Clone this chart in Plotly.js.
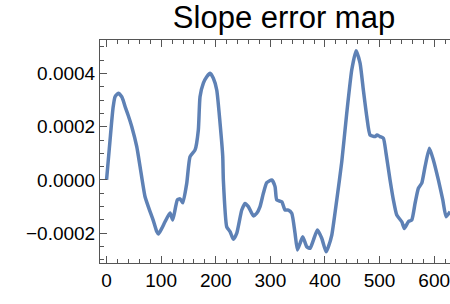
<!DOCTYPE html>
<html><head><meta charset="utf-8">
<script src="https://cdn.plot.ly/plotly-3.0.1.min.js"></script>
<style>html,body{margin:0;padding:0;overflow:hidden;background:#fff}</style>
</head><body><div id="chart" style="width:450px;height:304px"></div>
<script>
const xValues = [0,6.4,11.9,15.6,21.6,27.8,30.2,33.9,39.4,46.2,55.3,61.4,70.5,79.7,85.2,91.9,94.9,101.1,107.1,116.3,121.2,129.7,134.6,139.6,146.9,152.9,162.1,168.1,171.2,177.3,183.5,189.6,195.6,201.8,207.9,212.8,213.9,220.1,226.2,232.2,238.5,247.6,253.7,259.7,268.9,275.1,281.1,287.2,293.4,302.6,308.6,311.7,320.9,326.9,333.0,339.2,345.2,349.5,354.4,359.3,366.7,372.7,378.8,386.1,394.1,402.0,406.2,412.5,421.6,430.8,439.9,449.1,457.0,464.3,470.3,476.6,482.6,491.8,495.4,500.9,507.0,511.9,519.2,525.3,531.5,540.7,545.4,552.7,559.0,565.0,571.1,577.3,583.3,591.2,598.5,607.7,615.8,621.8,629.1];
const yValues = [0,0.000150,0.000271,0.000313,0.000326,0.000313,0.000301,0.000276,0.000244,0.000200,0.000125,0.000050,-0.000063,-0.000119,-0.000150,-0.000194,-0.000203,-0.000182,-0.000157,-0.000124,-0.000150,-0.000075,-0.000071,-0.000086,-0.000012,0.000088,0.000113,0.000188,0.000313,0.000364,0.000388,0.000401,0.000382,0.000338,0.000213,0.000088,0,-0.000176,-0.000194,-0.000223,-0.000200,-0.000113,-0.000088,-0.000100,-0.000135,-0.000125,-0.000100,-0.000050,-0.000010,0,-0.000025,-0.000075,-0.000082,-0.000113,-0.000113,-0.000125,-0.000200,-0.000263,-0.000238,-0.000213,-0.000251,-0.000257,-0.000226,-0.000188,-0.000219,-0.000270,-0.000251,-0.000207,-0.000075,0.000069,0.000251,0.000414,0.000486,0.000439,0.000338,0.000238,0.000169,0.000163,0.000169,0.000163,0.000157,0.000100,0,-0.000075,-0.000132,-0.000157,-0.000182,-0.000157,-0.000150,-0.000088,-0.000031,-0.000012,0.000050,0.000119,0.000075,0,-0.000075,-0.000138,-0.000119];
const xTicks = [0,100,200,300,400,500,600];
const yTicks = [-0.0002,0,0.0002,0.0004];
const yTickLabels = ["\u22120.0002","0.0000","0.0002","0.0004"];
const titleText = "Slope error map";

const frame = '#555555';
const font = {family:'Liberation Sans, Arial, sans-serif', size:19, color:'#000'};
Plotly.newPlot('chart', [{
  x: xValues, y: yValues, type:'scatter', mode:'lines',
  line:{color:'#5E81B5', width:3.5, shape:'spline', smoothing:0.5}, hoverinfo:'skip'
}], {
  width:450, height:304,
  margin:{l:100, r:0, t:40, b:41, pad:0},
  paper_bgcolor:'#fff', plot_bgcolor:'#fff',
  showlegend:false,
  title:{text:titleText, font:{family:'Liberation Sans, Arial, sans-serif', size:31, color:'#000'},
         x:284/450, xref:'container', xanchor:'center', y:1-17/304, yref:'container', yanchor:'middle'},
  xaxis:{range:[-12,629], tickvals:xTicks, ticks:'inside', ticklen:7, tickcolor:frame, tickwidth:1,
         showline:true, linecolor:frame, linewidth:1, mirror:'ticks', showgrid:false, zeroline:false,
         ticklabeloverflow:'allow', tickfont:font,
         minor:{dtick:20, tick0:0, ticks:'inside', ticklen:4, tickcolor:frame, showgrid:false}},
  yaxis:{range:[-0.000312,0.000526], tickvals:yTicks, ticktext:yTickLabels, ticks:'inside', ticklen:7,
         tickcolor:frame, tickwidth:1, showline:true, linecolor:frame, linewidth:1, mirror:false,
         showgrid:false, zeroline:false, tickfont:font,
         minor:{dtick:0.00005, tick0:0, ticks:'inside', ticklen:4, tickcolor:frame, showgrid:false}}
}, {staticPlot:true});
</script></body></html>
